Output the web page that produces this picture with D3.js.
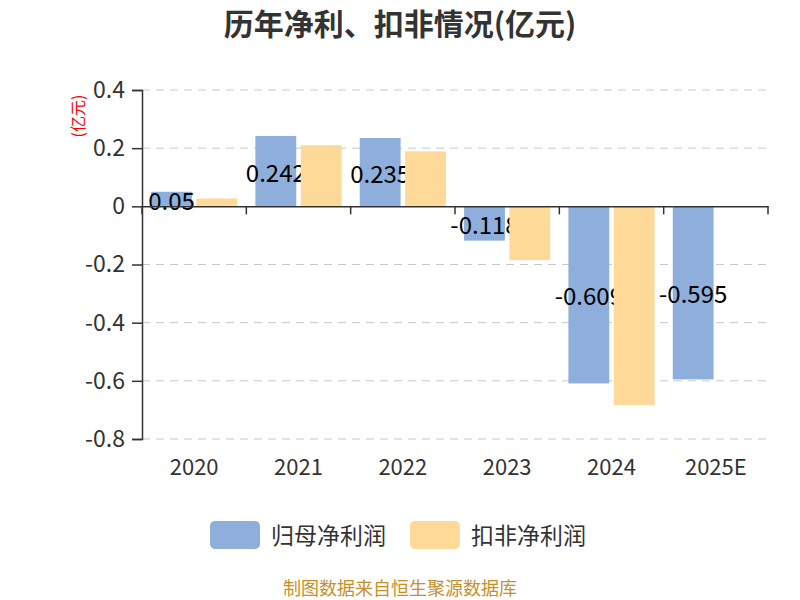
<!DOCTYPE html>
<html>
<head>
<meta charset="utf-8">
<script src="https://cdn.jsdelivr.net/npm/d3@7"></script>
<style>
  body { margin: 0; background: #fff; }
  text { font-family: "Noto Sans CJK SC", "Noto Sans", sans-serif; }
</style>
</head>
<body>
<svg id="chart" width="800" height="600"></svg>
<script>
// Data
const years = ['2020', '2021', '2022', '2023', '2024', '2025E']
const netProfit = [0.05, 0.242, 0.235, -0.118, -0.609, -0.595]
const deductedProfit = [0.027, 0.21, 0.189, -0.185, -0.683, null]
const yTicks = [0.4, 0.2, 0, -0.2, -0.4, -0.6, -0.8]
const seriesNames = ['归母净利润', '扣非净利润']

const colorBlue = '#8eaedb'
const colorOrange = '#ffd998'

const svg = d3.select('#chart')
const plotLeft = 142, plotRight = 768, plotTop = 90, plotBottom = 439

const x = d3.scaleBand().domain(years).range([plotLeft, plotRight])
const y = d3.scaleLinear().domain([-0.8, 0.4]).range([plotBottom, plotTop])

// Title
svg.append('text')
    .attr('x', 400).attr('y', 35)
    .attr('text-anchor', 'middle')
    .style('font-size', '30px').style('font-weight', 'bold').style('fill', '#333')
    .text('历年净利、扣非情况(亿元)')

// Unit label
svg.append('text')
    .attr('transform', 'translate(84,116) rotate(-90)')
    .attr('text-anchor', 'middle')
    .style('font-size', '16px').style('fill', 'red')
    .text('(亿元)')

// Grid lines
svg.append('g').selectAll('line')
    .data(yTicks.filter(d => d !== 0))
    .join('line')
    .attr('x1', plotLeft).attr('x2', plotRight)
    .attr('y1', d => y(d)).attr('y2', d => y(d))
    .attr('stroke', '#c8c8c8').attr('stroke-dasharray', '8,6')

// Y axis
const yAxis = d3.axisLeft(y).tickValues(yTicks).tickSize(10).tickPadding(7)
    .tickFormat(d => d === 0 ? '0' : d3.format('.1f')(d).replace('−', '-'))
const gy = svg.append('g').attr('transform', `translate(${plotLeft},0)`).call(yAxis)
gy.select('.domain').attr('stroke', '#333').attr('stroke-width', 1.5)
gy.selectAll('.tick line').attr('stroke', '#333').attr('stroke-width', 1.5)
gy.selectAll('.tick text').style('font-size', '23px').style('fill', '#333')

// Bars
const inner = d3.scaleBand().domain([0, 1]).range([0, x.bandwidth()]).paddingInner(0.1).paddingOuter(0.2)

function drawBars(values, idx, color) {
    svg.append('g').selectAll('rect')
        .data(values.map((v, i) => ({ year: years[i], v })).filter(d => d.v !== null))
        .join('rect')
        .attr('x', d => x(d.year) + inner(idx))
        .attr('width', inner.bandwidth())
        .attr('y', d => y(Math.max(0, d.v)))
        .attr('height', d => Math.abs(y(d.v) - y(0)))
        .attr('fill', color)
}

drawBars(netProfit, 0, colorBlue)

// Labels for 归母净利润 (drawn below the second series)
svg.append('g').selectAll('text')
    .data(netProfit.map((v, i) => ({ year: years[i], v })))
    .join('text')
    .attr('x', d => x(d.year) + inner(0) + inner.bandwidth() / 2)
    .attr('y', d => (y(d.v) + y(0)) / 2)
    .attr('text-anchor', 'middle')
    .attr('dominant-baseline', 'central')
    .style('font-size', '24px').style('fill', '#000')
    .text(d => d.v)

drawBars(deductedProfit, 1, colorOrange)

// X axis at zero
const xAxis = d3.axisBottom(x).tickSize(0).tickPadding(0).tickFormat('')
const gx = svg.append('g').attr('transform', `translate(0,${y(0)})`).call(xAxis)
gx.select('.domain').attr('stroke', '#333').attr('stroke-width', 1.5)
svg.append('g').selectAll('line')
    .data(years.map(d => x(d)).concat([plotRight]))
    .join('line')
    .attr('x1', d => d).attr('x2', d => d)
    .attr('y1', y(0)).attr('y2', y(0) + 8)
    .attr('stroke', '#333').attr('stroke-width', 1.5)

// X labels at bottom
svg.append('g').selectAll('text')
    .data(years)
    .join('text')
    .attr('x', d => x(d) + x.bandwidth() / 2)
    .attr('y', 475)
    .attr('text-anchor', 'middle')
    .style('font-size', '22px').style('fill', '#333')
    .text(d => d)

// Legend
const legend = svg.append('g')
const legendItems = [
    { name: seriesNames[0], color: colorBlue, x: 210 },
    { name: seriesNames[1], color: colorOrange, x: 410 }
]
legendItems.forEach(item => {
    legend.append('rect')
        .attr('x', item.x).attr('y', 521).attr('width', 50).attr('height', 28)
        .attr('rx', 5).attr('fill', item.color)
    legend.append('text')
        .attr('x', item.x + 61).attr('y', 544)
        .style('font-size', '23px').style('fill', '#333')
        .text(item.name)
})

// Footer
svg.append('text')
    .attr('x', 400).attr('y', 595)
    .attr('text-anchor', 'middle')
    .style('font-size', '18px').style('fill', '#c8902a')
    .text('制图数据来自恒生聚源数据库')
</script>
</body>
</html>
